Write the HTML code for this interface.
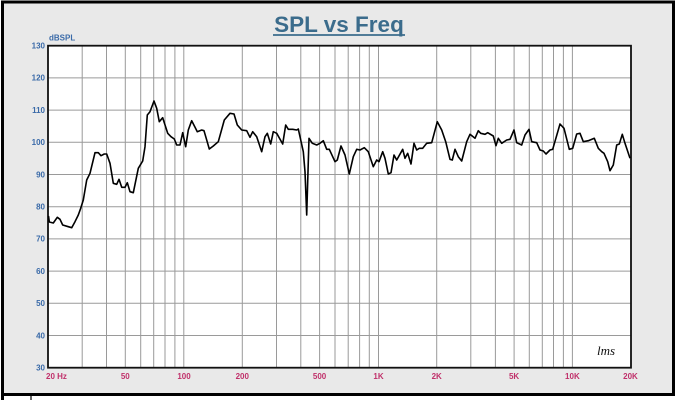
<!DOCTYPE html>
<html><head><meta charset="utf-8"><style>
html,body{margin:0;padding:0;background:#fff;}
svg{display:block;}
.yl{font-family:"Liberation Sans",sans-serif;font-weight:bold;font-size:8px;fill:#3a6aa8;}
.xl{font-family:"Liberation Sans",sans-serif;font-weight:bold;font-size:8px;fill:#c0306a;}
</style></head><body>
<svg width="680" height="400" viewBox="0 0 680 400" xmlns="http://www.w3.org/2000/svg">
<rect x="0" y="0" width="680" height="400" fill="#fff"/>
<rect x="2.5" y="2" width="671" height="392.5" fill="#e9e9e9" stroke="#000" stroke-width="3"/>
<line x1="2.5" y1="394" x2="2.5" y2="400" stroke="#000" stroke-width="3"/>
<line x1="31" y1="395" x2="31" y2="400" stroke="#000" stroke-width="1.2"/>
<!-- title -->
<text x="339" y="32" text-anchor="middle" font-family="Liberation Sans,sans-serif" font-weight="bold" font-size="22.5" fill="#3b6c8c">SPL vs Freq</text>
<line x1="273" y1="35" x2="405" y2="35" stroke="#3b6c8c" stroke-width="1.8"/>
<!-- plot area -->
<rect x="48" y="45.7" width="583" height="322" fill="#fff"/>
<g stroke="#9a9a9a" stroke-width="1">
<line x1="48" y1="77.9" x2="631" y2="77.9"/>
<line x1="48" y1="110.1" x2="631" y2="110.1"/>
<line x1="48" y1="142.3" x2="631" y2="142.3"/>
<line x1="48" y1="174.5" x2="631" y2="174.5"/>
<line x1="48" y1="206.7" x2="631" y2="206.7"/>
<line x1="48" y1="238.9" x2="631" y2="238.9"/>
<line x1="48" y1="271.1" x2="631" y2="271.1"/>
<line x1="48" y1="303.3" x2="631" y2="303.3"/>
<line x1="48" y1="335.5" x2="631" y2="335.5"/>
<line x1="82.2" y1="45.7" x2="82.2" y2="367.7"/>
<line x1="106.5" y1="45.7" x2="106.5" y2="367.7"/>
<line x1="125.3" y1="45.7" x2="125.3" y2="367.7"/>
<line x1="140.7" y1="45.7" x2="140.7" y2="367.7"/>
<line x1="153.7" y1="45.7" x2="153.7" y2="367.7"/>
<line x1="165" y1="45.7" x2="165" y2="367.7"/>
<line x1="174.9" y1="45.7" x2="174.9" y2="367.7"/>
<line x1="183.8" y1="45.7" x2="183.8" y2="367.7"/>
<line x1="242.3" y1="45.7" x2="242.3" y2="367.7"/>
<line x1="276.5" y1="45.7" x2="276.5" y2="367.7"/>
<line x1="300.8" y1="45.7" x2="300.8" y2="367.7"/>
<line x1="319.6" y1="45.7" x2="319.6" y2="367.7"/>
<line x1="335" y1="45.7" x2="335" y2="367.7"/>
<line x1="348.2" y1="45.7" x2="348.2" y2="367.7"/>
<line x1="359.6" y1="45.7" x2="359.6" y2="367.7"/>
<line x1="369.3" y1="45.7" x2="369.3" y2="367.7"/>
<line x1="378.5" y1="45.7" x2="378.5" y2="367.7"/>
<line x1="436.7" y1="45.7" x2="436.7" y2="367.7"/>
<line x1="470.8" y1="45.7" x2="470.8" y2="367.7"/>
<line x1="495.4" y1="45.7" x2="495.4" y2="367.7"/>
<line x1="514.1" y1="45.7" x2="514.1" y2="367.7"/>
<line x1="529.3" y1="45.7" x2="529.3" y2="367.7"/>
<line x1="542.3" y1="45.7" x2="542.3" y2="367.7"/>
<line x1="553.5" y1="45.7" x2="553.5" y2="367.7"/>
<line x1="563.4" y1="45.7" x2="563.4" y2="367.7"/>
<line x1="572.4" y1="45.7" x2="572.4" y2="367.7"/>
</g>
<rect x="48" y="45.7" width="583" height="322" fill="none" stroke="#111" stroke-width="1.8"/>
<!-- curve -->
<polyline fill="none" stroke="#000" stroke-width="1.6" stroke-linejoin="round" points="48.5,216 49.3,222 53.3,223 57.3,217.3 60,219.3 62.7,225 68.3,226.7 71.7,227.7 75,221.7 78.3,215 80.7,208.3 83.3,200 86.7,180 90,173.3 95,152.7 98.3,152.7 101,155.7 104.3,154 106.7,154 110,163.3 113.3,183.3 116.7,184.3 119,179.3 121.7,187.3 125,187.3 127.3,182.7 130,191.7 133.3,192.7 138.3,168.3 142.7,161 145,146.7 147.3,115 150,111.7 154,101 156.7,108.3 159.3,121.7 162.7,117.7 167.7,133.3 171,136.7 174.3,139 176.7,145 180,145 182.7,132.7 185.7,146.7 188.3,130 191.7,120.7 197.3,131.7 201.7,130 204,130.7 209.3,149 213.3,146 218.3,141.7 224.3,120 230,113.3 234,114 237.3,125 241.7,130 246.7,130.7 250,137.3 252.7,131.7 256.7,136.7 261.7,151.7 265,136.7 267.3,133.3 270.7,144 273.3,131.7 276.7,133.3 282.7,144 285.7,125 288.3,129.3 292.7,129.3 296.7,130 298.3,129 300,136.7 303.3,151.7 305,171.7 306.7,215 309,138.3 312.3,143.3 316.7,145 320,143.3 323.3,140.7 326.7,149.3 329.3,149.3 335,161.7 337.3,160 341,146 345,155 349.3,174 353.3,156.7 356.7,149.3 360,150 364.3,147.7 368.3,151.7 373.3,166.7 376.7,160 379,161.7 382.7,151.7 385,158.3 388.3,174 391,172.7 394,155 396.7,160 402.7,149.3 405,158.3 407.7,153.3 411,164 414,143.3 416.7,150 419.3,148.3 422.7,148.3 426.7,143.3 431.7,142.7 437.3,121.7 441.7,130 445.7,141.7 450,159.3 452.3,160 455,149.3 458.3,156.7 461.7,161 466.7,141.7 470,134.3 475,138.3 478.3,130.7 480.7,133.3 485,134.3 487.7,132.7 493.3,136 496,145.7 498.3,138.3 501.7,143.3 506.7,140 510,139.3 514,130 516.7,142.7 521.7,145 525,135 529,129.3 531.7,141.7 536.7,142.7 540,150 543.3,151 546,154 550,150 552.7,149.3 560,124 564,128.3 569.3,149.3 572.7,148.3 576.7,134 580,133.3 583.3,141.7 588.3,140.7 594.3,138.3 598.3,148.3 601.7,151.7 604,153.3 607.7,161.7 610,170.7 613.3,165 616.7,145 619.3,144 622.3,134.3 625,143.3 630,158.3"/>
<!-- logo -->
<text x="597" y="355" font-family="Liberation Serif,serif" font-style="italic" font-size="13" fill="#111">lms</text>
<!-- y labels -->
<text class="yl" x="49" y="40.5">dBSPL</text>
<g class="yl" text-anchor="end">
<text x="45" y="48.5">130</text>
<text x="45" y="80.7">120</text>
<text x="45" y="112.9">110</text>
<text x="45" y="145.1">100</text>
<text x="45" y="177.3">90</text>
<text x="45" y="209.5">80</text>
<text x="45" y="241.7">70</text>
<text x="45" y="273.9">60</text>
<text x="45" y="306.1">50</text>
<text x="45" y="338.3">40</text>
<text x="45" y="370.5">30</text>
</g>
<!-- x labels -->
<text class="xl" x="46" y="379">20  Hz</text>
<g class="xl" text-anchor="middle">
<text x="125.3" y="379">50</text>
<text x="184" y="379">100</text>
<text x="242.3" y="379">200</text>
<text x="319.6" y="379">500</text>
<text x="378.5" y="379">1K</text>
<text x="436.7" y="379">2K</text>
<text x="514.1" y="379">5K</text>
<text x="572.4" y="379">10K</text>
<text x="630.5" y="379">20K</text>
</g>
</svg>
</body></html>
